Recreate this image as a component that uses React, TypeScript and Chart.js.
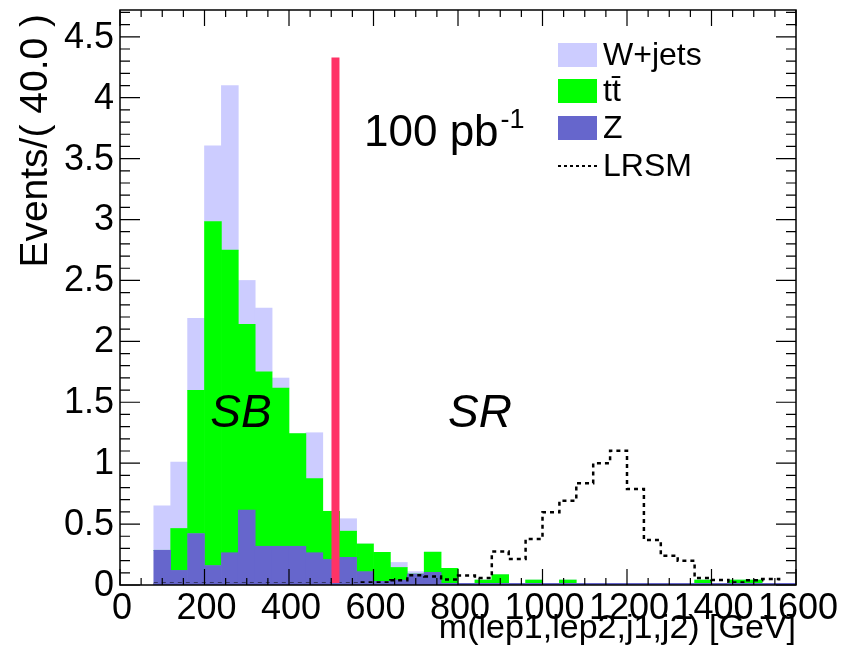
import { useEffect, useRef } from 'react';
import { Chart, registerables } from 'chart.js';

Chart.register(...registerables);

// ---- data (40 GeV bins, lower edges) ----
const binLow = [80, 120, 160, 200, 240, 280, 320, 360, 400, 440, 480, 520, 560, 600, 640, 680, 720, 760, 800, 840, 880, 920, 960, 1000, 1040, 1080, 1120, 1160, 1200, 1240, 1280, 1320, 1360, 1400, 1440, 1480, 1520, 1560];
const binWidth = 40;
const xMaxEdge = 1600;

const zValues = [0.285, 0.12, 0.423, 0.16, 0.265, 0.616, 0.318, 0.318, 0.318, 0.265, 0.21, 0.227, 0.11, 0.03, 0.04, 0.09, 0.104, 0, 0, 0, 0, 0, 0, 0, 0, 0, 0, 0, 0, 0, 0, 0, 0, 0, 0, 0, 0, 0];
const ttValues = [0, 0.344, 1.174, 2.823, 2.484, 1.524, 1.431, 1.298, 0.925, 0.608, 0.395, 0.215, 0.227, 0.238, 0.104, 0, 0.166, 0.137, 0, 0.041, 0.085, 0, 0.041, 0, 0.041, 0, 0, 0, 0, 0, 0, 0, 0.041, 0, 0.041, 0.041, 0, 0];
const wValues = [0.365, 0.544, 0.593, 0.622, 1.351, 0.36, 0.524, 0.083, 0, 0.377, 0, 0.102, 0, 0, 0.041, 0.02, 0, 0, 0, 0, 0, 0, 0, 0, 0, 0, 0, 0, 0, 0, 0, 0, 0, 0, 0, 0, 0, 0];
const lrsmValues = [0.01, 0.01, 0.01, 0.01, 0.01, 0.01, 0.01, 0.01, 0.01, 0.01, 0.01, 0.01, 0.02, 0.02, 0.04, 0.08, 0.07, 0.045, 0.077, 0.057, 0.274, 0.213, 0.378, 0.597, 0.692, 0.835, 1.0, 1.103, 0.788, 0.369, 0.241, 0.2, 0.057, 0.041, 0.02, 0.04, 0.05, 0.005];

const cutValue = 510;
const cutHeight = 4.33;

const yTickValues = [0, 0.5, 1, 1.5, 2, 2.5, 3, 3.5, 4, 4.5];
const yTickLabels = ['0', '0.5', '1', '1.5', '2', '2.5', '3', '3.5', '4', '4.5'];
const xTickValues = [0, 200, 400, 600, 800, 1000, 1200, 1400, 1600];
const xTickLabels = ['0', '200', '400', '600', '800', '1000', '1200', '1400', '1600'];

const legendLabels = ['W+jets', 'tt\u0304', 'Z', 'LRSM'];
const xTitle = 'm(lep1,lep2,j1,j2) [GeV]';
const yTitle = 'Events/( 40.0 )';

const COL_W = '#ccccff';
const COL_TT = '#00ff00';
const COL_Z = '#6666cc';
const COL_CUT = '#ff3366';
const FONT = '"Liberation Sans", Arial, Helvetica, sans-serif';

const rootDecor = {
  id: 'rootDecor',
  afterDatasetsDraw(chart: any) {
    const { ctx, chartArea: a, scales } = chart;
    const xs = scales.x;
    const ys = scales.y;
    ctx.save();
    ctx.strokeStyle = '#000';
    ctx.fillStyle = '#000';

    // Z outline along zero (ROOT draws empty bins as a line)
    ctx.strokeStyle = COL_Z;
    ctx.lineWidth = 2;
    ctx.beginPath();
    ctx.moveTo(xs.getPixelForValue(binLow[0]), a.bottom - 1);
    ctx.lineTo(xs.getPixelForValue(xMaxEdge), a.bottom - 1);
    ctx.stroke();
    ctx.strokeStyle = '#000';

    // frame
    ctx.lineWidth = 1.5;
    ctx.strokeRect(a.left, a.top, a.right - a.left, a.bottom - a.top);

    // y ticks (inside, left and right)
    ctx.lineWidth = 1.2;
    for (let k = 0; k <= 47; k++) {
      const v = k * 0.1;
      if (v > ys.max) break;
      const py = ys.getPixelForValue(v);
      const major = k % 5 === 0;
      const len = major ? 20 : 10;
      ctx.beginPath();
      ctx.moveTo(a.left, py); ctx.lineTo(a.left + len, py);
      ctx.moveTo(a.right, py); ctx.lineTo(a.right - len, py);
      ctx.stroke();
    }
    // x ticks (inside, bottom and top)
    for (let k = 0; k <= 32; k++) {
      const v = k * 50;
      const px = xs.getPixelForValue(v);
      const major = k % 4 === 0;
      const len = major ? 16 : 7;
      ctx.beginPath();
      ctx.moveTo(px, a.bottom); ctx.lineTo(px, a.bottom - len);
      ctx.moveTo(px, a.top); ctx.lineTo(px, a.top + len);
      ctx.stroke();
    }

    // y tick labels
    ctx.font = `36px ${FONT}`;
    ctx.textAlign = 'right';
    ctx.textBaseline = 'middle';
    yTickValues.forEach((v, i) => {
      ctx.fillText(yTickLabels[i], a.left - 6, ys.getPixelForValue(v) + 1);
    });
    // x tick labels
    ctx.textAlign = 'center';
    ctx.textBaseline = 'top';
    xTickValues.forEach((v, i) => {
      ctx.fillText(xTickLabels[i], xs.getPixelForValue(v) + 2, a.bottom + 6);
    });

    // x title
    ctx.font = `34px ${FONT}`;
    ctx.textAlign = 'right';
    ctx.textBaseline = 'middle';
    ctx.fillText(xTitle, a.right, 629);

    // y title
    ctx.save();
    ctx.translate(36, a.top + 4);
    ctx.rotate(-Math.PI / 2);
    ctx.font = `39px ${FONT}`;
    ctx.textAlign = 'right';
    ctx.textBaseline = 'middle';
    ctx.fillText(yTitle, 0, 0);
    ctx.restore();

    // legend
    const lx = 558, bw = 39;
    const rows = [55, 91, 128, 166];
    const cols = [COL_W, COL_TT, COL_Z];
    cols.forEach((c, i) => {
      ctx.fillStyle = c;
      ctx.fillRect(lx, rows[i] - 12, bw, 24);
    });
    ctx.strokeStyle = '#000';
    ctx.lineWidth = 2;
    ctx.setLineDash([3, 3]);
    ctx.beginPath();
    ctx.moveTo(lx, rows[3]); ctx.lineTo(lx + bw, rows[3]);
    ctx.stroke();
    ctx.setLineDash([]);
    ctx.fillStyle = '#000';
    ctx.font = `32px ${FONT}`;
    ctx.textAlign = 'left';
    ctx.textBaseline = 'middle';
    legendLabels.forEach((t, i) => ctx.fillText(t, 603, rows[i] + 1));

    // luminosity
    ctx.font = `44px ${FONT}`;
    ctx.textBaseline = 'alphabetic';
    ctx.fillText('100 pb', 364, 146);
    const w = ctx.measureText('100 pb').width;
    ctx.font = `27px ${FONT}`;
    ctx.fillText('-1', 364 + w + 2, 128);

    // region labels
    ctx.font = `italic 46px ${FONT}`;
    ctx.textAlign = 'center';
    ctx.textBaseline = 'middle';
    ctx.fillText('SB', 241, 414);
    ctx.fillText('SR', 480, 414);

    ctx.restore();
  },
};

export default function App() {
  const ref = useRef<HTMLCanvasElement>(null);
  useEffect(() => {
    if (!ref.current) return;
    const centers = binLow.map((lo) => lo + binWidth / 2);
    const barDs = (label: string, vals: number[], color: string) => ({
      type: 'bar' as const,
      label,
      data: vals.map((v, i) => ({ x: centers[i], y: v })),
      backgroundColor: color,
      borderWidth: 0,
      barPercentage: 1,
      categoryPercentage: 1,
      grouped: false,
      stack: 'bkg',
    });
    const lrsmPts = binLow.map((lo, i) => ({ x: lo, y: lrsmValues[i] }));
    lrsmPts.push({ x: xMaxEdge, y: lrsmValues[lrsmValues.length - 1] });

    const chart = new Chart(ref.current, {
      type: 'bar',
      data: {
        datasets: [
          {
            type: 'line',
            label: 'cut',
            data: [{ x: cutValue, y: 0 }, { x: cutValue, y: cutHeight }],
            borderColor: COL_CUT,
            borderWidth: 8,
            borderCapStyle: 'butt',
            pointRadius: 0,
            stack: 'cut',
          } as any,
          {
            type: 'line',
            label: 'LRSM',
            data: lrsmPts,
            borderColor: '#000',
            borderWidth: 2.5,
            borderDash: [4, 4],
            stepped: 'before',
            pointRadius: 0,
            stack: 'lrsm',
          } as any,
          barDs('Z', zValues, COL_Z),
          barDs('tt', ttValues, COL_TT),
          barDs('W+jets', wValues, COL_W),
        ],
      },
      options: {
        responsive: false,
        animation: false,
        devicePixelRatio: 1,
        layout: { padding: { left: 120, right: 53, top: 10, bottom: 82 } },
        plugins: { legend: { display: false }, tooltip: { enabled: false } },
        scales: {
          x: { type: 'linear', min: 0, max: 1600, offset: false, display: false, stacked: true, ticks: { stepSize: 200 } },
          y: { type: 'linear', min: 0, max: 4.72, display: false, stacked: true },
        },
      },
      plugins: [rootDecor],
    } as any);
    return () => chart.destroy();
  }, []);
  return (
    <div style={{ position: 'fixed', left: 0, top: 0, width: 849, height: 667, background: '#fff' }}>
      <canvas ref={ref} width={849} height={667} style={{ width: 849, height: 667 }} />
    </div>
  );
}
